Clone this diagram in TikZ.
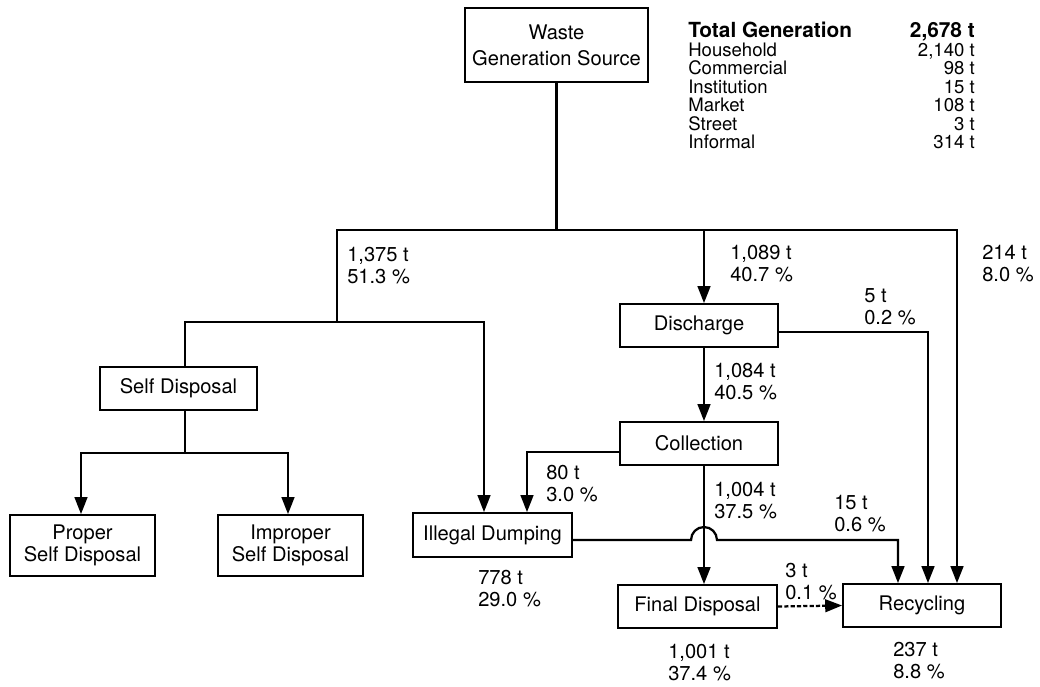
\documentclass[tikz,border=0pt]{standalone}
\usepackage{fontspec}
\setmainfont{TeX Gyre Heros}
\usetikzlibrary{arrows.meta}

\tikzset{
  box/.style={draw, line width=1.3pt, align=center, inner sep=1pt, font=\fontsize{14.3}{15.6}\selectfont},
  flow/.style={line width=1.6pt, -{Triangle[length=12pt,width=9pt]}},
  seg/.style={line width=1.6pt, line cap=rect},
  amount/.style={anchor=north west, align=left, inner sep=0pt, font=\fontsize{14.3}{15.6}\selectfont},
  row/.style={anchor=base west, inner sep=0pt, font=\fontsize{13.2}{13.2}\selectfont},
  rowval/.style={anchor=base east, inner sep=0pt, font=\fontsize{13.2}{13.2}\selectfont},
  rowbold/.style={font=\fontsize{14.8}{14.8}\selectfont\bfseries},
}

\begin{document}
\begin{tikzpicture}[x=0.025cm, y=-0.025cm]
	\useasboundingbox (0,0) rectangle (1040,686);
	% boxes
	\node[box, minimum width=4.575cm, minimum height=1.85cm] (src) at (556.5,45) {Waste\\[3pt]Generation Source};
	\node[box, minimum width=3.925cm, minimum height=1.075cm] (selfd) at (178.5,388.5) {Self Disposal};
	\node[box, minimum width=3.625cm, minimum height=1.525cm] (proper) at (82.5,545.5) {Proper\\Self Disposal};
	\node[box, minimum width=3.625cm, minimum height=1.525cm] (improper) at (290.5,545.5) {Improper\\Self Disposal};
	\node[box, minimum width=3.975cm, minimum height=1.1cm] (idump) at (492.5,535) {Illegal Dumping};
	\node[box, minimum width=3.95cm, minimum height=1.075cm] (disch) at (699,325.5) {Discharge};
	\node[box, minimum width=3.95cm, minimum height=1.075cm] (coll) at (699,443.5) {Collection};
	\node[box, minimum width=3.975cm, minimum height=1.075cm] (final) at (697.5,606.5) {Final Disposal};
	\node[box, minimum width=3.95cm, minimum height=1.075cm] (recyc) at (922,605.5) {Recycling};
	% generation table
	\node[row, rowbold] (tgen) at (688,37) {Total Generation};
	\node[rowval, rowbold] (tgenv) at (975,37) {2,678 t};
	\node[row] (hh) at (688,56) {Household};
	\node[rowval] (hhv) at (975,56) {2,140 t};
	\node[row] (com) at (688,74.5) {Commercial};
	\node[rowval] (comv) at (975,74.5) {98 t};
	\node[row] (inst) at (688,93) {Institution};
	\node[rowval] (instv) at (975,93) {15 t};
	\node[row] (mkt) at (688,111.5) {Market};
	\node[rowval] (mktv) at (975,111.5) {108 t};
	\node[row] (str) at (688,130) {Street};
	\node[rowval] (strv) at (975,130) {3 t};
	\node[row] (inf) at (688,148.5) {Informal};
	\node[rowval] (infv) at (975,148.5) {314 t};
	% junctions
	\coordinate (hL) at (337,230);
	\coordinate (hM) at (704,230);
	\coordinate (hR) at (957,230);
	\coordinate (sL) at (185,322);
	\coordinate (sR) at (484,322);
	\coordinate (pL) at (81,453);
	\coordinate (pR) at (288,453);
	\coordinate (dR) at (928,332);
	\coordinate (cL) at (527,452);
	\coordinate (iR) at (898,540);
	\coordinate (jmp) at (704,540);
	% connectors
	\draw[seg] (src.south) -- (src.south |- hL);
	\draw[seg] (hL) -- (hR);
	\draw[seg] (hL) -- (hL |- sL);
	\draw[seg] (sL) -- (sR);
	\draw[seg] (sL) -- (sL |- selfd.north);
	\draw[flow] (sR) -- (sR |- idump.north);
	\draw[seg] (sL |- selfd.south) -- (sL |- pL);
	\draw[seg] (pL) -- (pR);
	\draw[flow] (pL) -- (pL |- proper.north);
	\draw[flow] (pR) -- (pR |- improper.north);
	\draw[flow] (hM) -- (hM |- disch.north);
	\draw[flow] (hR) -- (hR |- recyc.north);
	\draw[flow] (disch.east |- dR) -- (dR) -- (dR |- recyc.north);
	\draw[flow] (hM |- disch.south) -- (hM |- coll.north);
	\draw[flow] (coll.west |- cL) -- (cL) -- (cL |- idump.north);
	\draw[flow] (hM |- coll.south) -- (hM |- final.north);
	\draw[flow] (idump.east |- jmp) -- ([xshift=-0.325cm]jmp) arc[start angle=180, end angle=360, radius=13] -- (iR) -- (iR |- recyc.north);
	\draw[flow, dash pattern=on 3pt off 1.5pt] (final.east) -- (recyc.west);
	% amounts
	\node[amount] (a1) at (347,247) {1,375 t\\51.3 \%};
	\node[amount] (a2) at (730,245) {1,089 t\\40.7 \%};
	\node[amount] (a3) at (982,245) {214 t\\8.0 \%};
	\node[amount] (a4) at (864,288) {5 t\\0.2 \%};
	\node[amount] (a5) at (714,363) {1,084 t\\40.5 \%};
	\node[amount] (a6) at (546,465) {80 t\\3.0 \%};
	\node[amount] (a7) at (714,482) {1,004 t\\37.5 \%};
	\node[amount] (a8) at (834,495) {15 t\\0.6 \%};
	\node[amount] (a9) at (785,563) {3 t\\0.1 \%};
	\node[amount] (a10) at (478,570) {778 t\\29.0 \%};
	\node[amount] (a11) at (668,644) {1,001 t\\37.4 \%};
	\node[amount] (a12) at (893,642) {237 t\\8.8 \%};
\end{tikzpicture}
\end{document}
